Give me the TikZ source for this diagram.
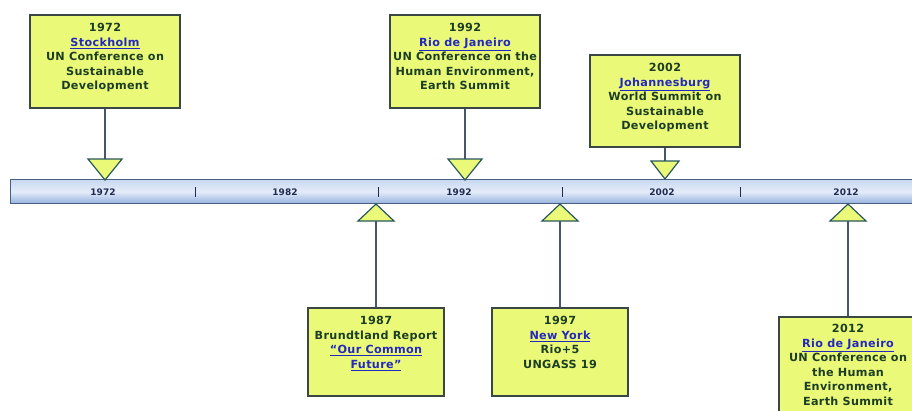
\documentclass[tikz,border=0pt]{standalone}
\usepackage{fontspec}
\setmainfont{DejaVu Sans}
\newfontfamily\boxfont[LetterSpace=3]{DejaVu Sans Bold}
\newfontfamily\barfont{DejaVu Sans Bold}
\usetikzlibrary{positioning,shadows}
\definecolor{boxfill}{RGB}{235,249,120}
\definecolor{boxdraw}{RGB}{58,70,68}
\definecolor{txt}{RGB}{28,62,36}
\definecolor{lnkcol}{RGB}{36,40,190}
\definecolor{conn}{RGB}{72,86,108}
\definecolor{triborder}{RGB}{40,88,92}
\definecolor{bartop}{RGB}{200,216,240}
\definecolor{barmid}{RGB}{228,236,249}
\definecolor{barbot}{RGB}{150,178,224}
\definecolor{barborder}{RGB}{70,96,128}
\definecolor{bartxt}{RGB}{30,44,80}
\newcommand{\lnk}[1]{{\color{lnkcol}\underline{#1}}}
\tikzset{
  evbox/.style={draw=boxdraw, line width=1.6pt, fill=boxfill, rectangle, inner sep=0pt,
    drop shadow={shadow xshift=1.2pt, shadow yshift=-1.2pt, fill=black!35, opacity=0.6}},
  evtext/.style={anchor=north, align=center, inner sep=0pt, text=txt,
    font=\boxfont\fontsize{11.2}{14.5}\selectfont},
  connline/.style={draw=conn, line width=1.4pt},
  tri/.style={draw=triborder, line width=1.2pt, fill=boxfill, line join=miter},
  barlabel/.style={font=\barfont\fontsize{9}{10}\selectfont, text=bartxt, inner sep=0pt},
  tick/.style={draw=bartxt, line width=0.9pt}
}
\begin{document}
\begin{tikzpicture}[x=1pt,y=-1pt]
\useasboundingbox (0,0) rectangle (912,410);
\clip (0,0) rectangle (912,410);
\fill[white] (0,0) rectangle (912,410);

% timeline bar
\node (bar) [draw=barborder, line width=1.2pt, top color=bartop, bottom color=barbot, middle color=barmid,
  minimum width=905pt, minimum height=24pt, inner sep=0pt, anchor=north west] at (10,179) {};
\node[barlabel] (l72) at (103,192) {1972};
\node[barlabel] (l82) at (285,192) {1982};
\node[barlabel] (l92) at (459,192) {1992};
\node[barlabel] (l02) at (662,192) {2002};
\node[barlabel] (l12) at (846,192) {2012};
\foreach \x in {195,378,562,740} \draw[tick] (\x,187) -- (\x,197);

% boxes
\node[evbox, minimum width=150pt, minimum height=93pt] (b72) at (105,61.5) {};
\node[evtext] (t72) at ([yshift=-9pt]b72.north) {1972\\\lnk{Stockholm}\\UN Conference on\\Sustainable\\Development};

\node[evbox, minimum width=150pt, minimum height=93pt] (b92) at (465,61.5) {};
\node[evtext] (t92) at ([yshift=-9pt]b92.north) {1992\\\lnk{Rio de Janeiro}\\UN Conference on the\\Human Environment,\\Earth Summit};

\node[evbox, minimum width=150pt, minimum height=92pt] (b02) at (665,101) {};
\node[evtext] (t02) at ([yshift=-9pt]b02.north) {2002\\\lnk{Johannesburg}\\World Summit on\\Sustainable\\Development};

\node[evbox, minimum width=136pt, minimum height=88pt] (b87) at (376,352) {};
\node[evtext] (t87) at ([yshift=-9pt]b87.north) {1987\\Brundtland Report\\\lnk{“Our Common}\\\lnk{Future”}};

\node[evbox, minimum width=136pt, minimum height=88pt] (b97) at (560,352) {};
\node[evtext] (t97) at ([yshift=-9pt]b97.north) {1997\\\lnk{New York}\\Rio+5\\UNGASS 19};

\node[evbox, minimum width=138pt, minimum height=112pt] (b12) at (848,373) {};
\node[evtext] (t12) at ([yshift=-8pt]b12.north) {2012\\\lnk{Rio de Janeiro}\\UN Conference on\\the Human\\Environment,\\Earth Summit};

% triangle markers (base points as coordinates)
\coordinate (m72) at (105,159);
\coordinate (m92) at (465,159);
\coordinate (m02) at (665,161);
\coordinate (m87) at (376,221);
\coordinate (m97) at (560,221);
\coordinate (m12) at (848,221);

% connectors
\draw[connline] (b72.south) -- (m72);
\draw[connline] (b92.south) -- (m92);
\draw[connline] (b02.south) -- (m02);
\draw[connline] (b87.north) -- (m87);
\draw[connline] (b97.north) -- (m97);
\draw[connline] (b12.north) -- (m12);

% triangles
\draw[tri] ([xshift=-17pt]m72) -- ++(34,0) -- ([yshift=-21pt]m72) -- cycle;
\draw[tri] ([xshift=-17pt]m92) -- ++(34,0) -- ([yshift=-21pt]m92) -- cycle;
\draw[tri] ([xshift=-14pt]m02) -- ++(28,0) -- ([yshift=-18pt]m02) -- cycle;
\draw[tri] ([xshift=-18pt]m87) -- ++(36,0) -- ([yshift=17pt]m87) -- cycle;
\draw[tri] ([xshift=-18pt]m97) -- ++(36,0) -- ([yshift=17pt]m97) -- cycle;
\draw[tri] ([xshift=-18pt]m12) -- ++(36,0) -- ([yshift=17pt]m12) -- cycle;
\end{tikzpicture}
\end{document}
